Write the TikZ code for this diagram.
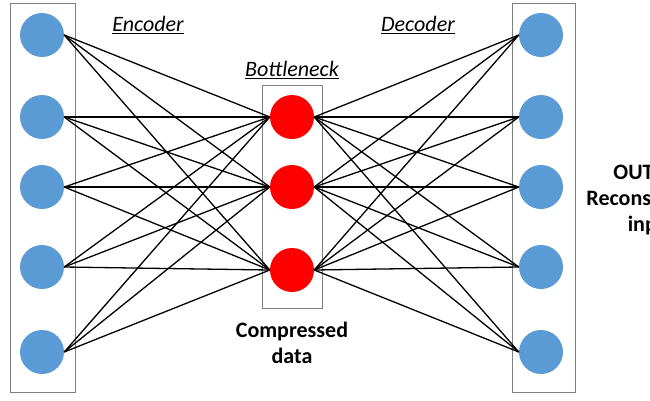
\documentclass[tikz,border=0pt]{standalone}
\usepackage{fontspec}
\setmainfont{Carlito}
\begin{document}
\begin{tikzpicture}[x=1pt,y=-1pt,
  blue/.style={circle,fill={rgb,255:red,91;green,155;blue,213},minimum size=44pt,inner sep=0pt},
  red/.style={circle,fill=red,minimum size=44pt,inner sep=0pt},
  box/.style={draw=gray,line width=0.8pt},
  conn/.style={line width=1.3pt,black},
  ttl/.style={font=\fontsize{22}{26}\selectfont\itshape},
  lbl/.style={font=\fontsize{22}{26}\selectfont\bfseries,align=center}]
\clip (0,0) rectangle (650,400);
\useasboundingbox (0,0) rectangle (650,400);
\draw[box] (10,3) rectangle (75,392);
\draw[box] (262,85) rectangle (322,308);
\draw[box] (512,3) rectangle (575,392);
\foreach \i/\y in {1/35,2/117,3/187,4/267,5/352}{
  \node[blue] (l\i) at (42,\y) {};
  \node[blue] (r\i) at (541,\y) {};
}
\foreach \j/\y in {1/117,2/187,3/270}{
  \node[red] (m\j) at (292,\y) {};
}
\foreach \i in {1,...,5}{\foreach \j in {1,2,3}{
  \draw[conn] (l\i.east) -- (m\j.west);
  \draw[conn] (m\j.east) -- (r\i.west);
}}
\node[ttl] (enc) at (148,25) {\underline{Encoder}};
\node[ttl] (bot) at (292,70) {\underline{Bottleneck}};
\node[ttl] (dec) at (418,25) {\underline{Decoder}};
\node[lbl] (cd) at (292,343) {Compressed\\data};
\node[lbl] (out) at (652,200) {OUTPUT\\Reconstructed\\input};
\end{tikzpicture}
\end{document}
